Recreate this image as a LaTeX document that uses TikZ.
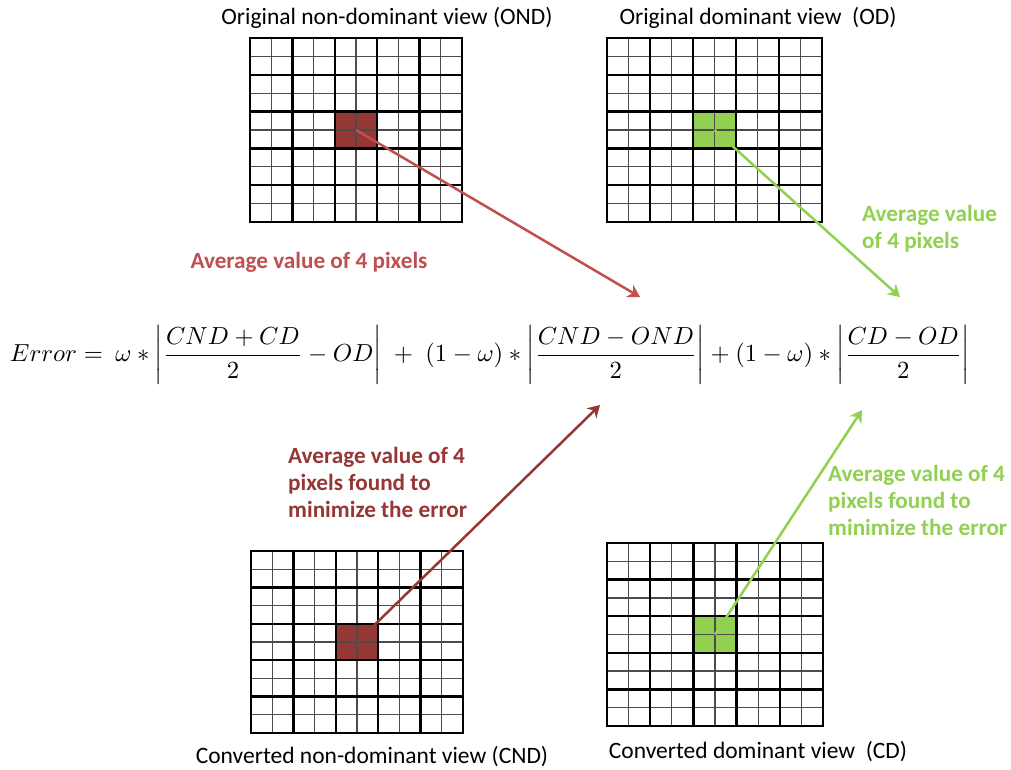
\documentclass[tikz,border=0pt]{standalone}
\usepackage{fontspec}
\setmainfont{Carlito}
\usepackage{graphicx}
\usetikzlibrary{arrows.meta}

\definecolor{lightred}{HTML}{C0504D}
\definecolor{darkred}{HTML}{953735}
\definecolor{leafgreen}{HTML}{92D050}

\tikzset{
  thinrule/.style={line width=1.3pt, black!70},
  thickrule/.style={line width=2.4pt, black, line cap=rect},
  viewtitle/.style={font=\fontsize{23.5}{28}\selectfont, inner sep=0pt},
  note/.style={font=\bfseries\fontsize{23.2}{27}\selectfont, align=left, inner sep=0pt},
  pointer/.style={line width=2.5pt, -{Stealth[length=12pt,width=14pt]}},
}

% name, left, top, cell width, cell height, fill colour
\newcommand{\viewgrid}[6]{
  \begin{scope}[shift={(#2,#3)}, x=#4pt, y=-#5pt]
    \fill[#6] (4,4) rectangle (6,6);
    \coordinate (#1) at (5,5);
    \foreach \k in {0,...,10} {
      \draw[thinrule] (\k,0) -- (\k,10);
      \draw[thinrule] (0,\k) -- (10,\k);
    }
    \foreach \k in {0,2,...,10} {
      \draw[thickrule] (\k,0) -- (\k,10);
      \draw[thickrule] (0,\k) -- (10,\k);
    }
  \end{scope}
}

\begin{document}
\begin{tikzpicture}[x=1pt, y=-1pt]
  \useasboundingbox[fill=white] (0,0) rectangle (1011,769);

  % the four views
  \viewgrid{ond}{250}{38}{21.2}{18.4}{darkred}
  \viewgrid{od}{607}{38}{21.5}{18.4}{leafgreen}
  \viewgrid{cnd}{251}{551}{21.2}{18.2}{darkred}
  \viewgrid{cd}{607}{543}{21.6}{18.3}{leafgreen}

  \node[viewtitle] (tond) at (387,18) {Original non-dominant view (OND)};
  \node[viewtitle] (tod) at (758,18) {Original dominant view\ \ (OD)};
  \node[viewtitle] (tcnd) at (372,757) {Converted non-dominant view (CND)};
  \node[viewtitle] (tcd) at (758,752) {Converted dominant view\ \ (CD)};

  % error formula
  \node[inner sep=0pt] (err) at (490,355) {\resizebox{960pt}{!}{$\displaystyle
    Error = \ \omega \ast \left|\frac{CND + CD}{2} - OD\right| \;+\; (1-\omega)\ast\left|\frac{CND - OND}{2}\right| + (1-\omega)\ast\left|\frac{CD - OD}{2}\right|$}};

  \coordinate (ina) at (640,297);
  \coordinate (inb) at (900,297);
  \coordinate (inc) at (600,405);
  \coordinate (ind) at (862,410);

  \draw[pointer, lightred] (ond) -- (ina);
  \draw[pointer, leafgreen] (od) -- (inb);
  \draw[pointer, darkred] (cnd) -- (inc);
  \draw[pointer, leafgreen] (cd) -- (ind);

  \node[note, lightred] (lond) at (309,262) {Average value of 4 pixels};
  \node[note, leafgreen, anchor=west] (lod) at (862,229) {Average value\\of 4 pixels};
  \node[note, darkred, anchor=west] (lcnd) at (288,482) {Average value of 4\\pixels found to\\minimize the error};
  \node[note, leafgreen, anchor=west] (lcd) at (828,500) {Average value of 4\\pixels found to\\minimize the error};
\end{tikzpicture}
\end{document}
